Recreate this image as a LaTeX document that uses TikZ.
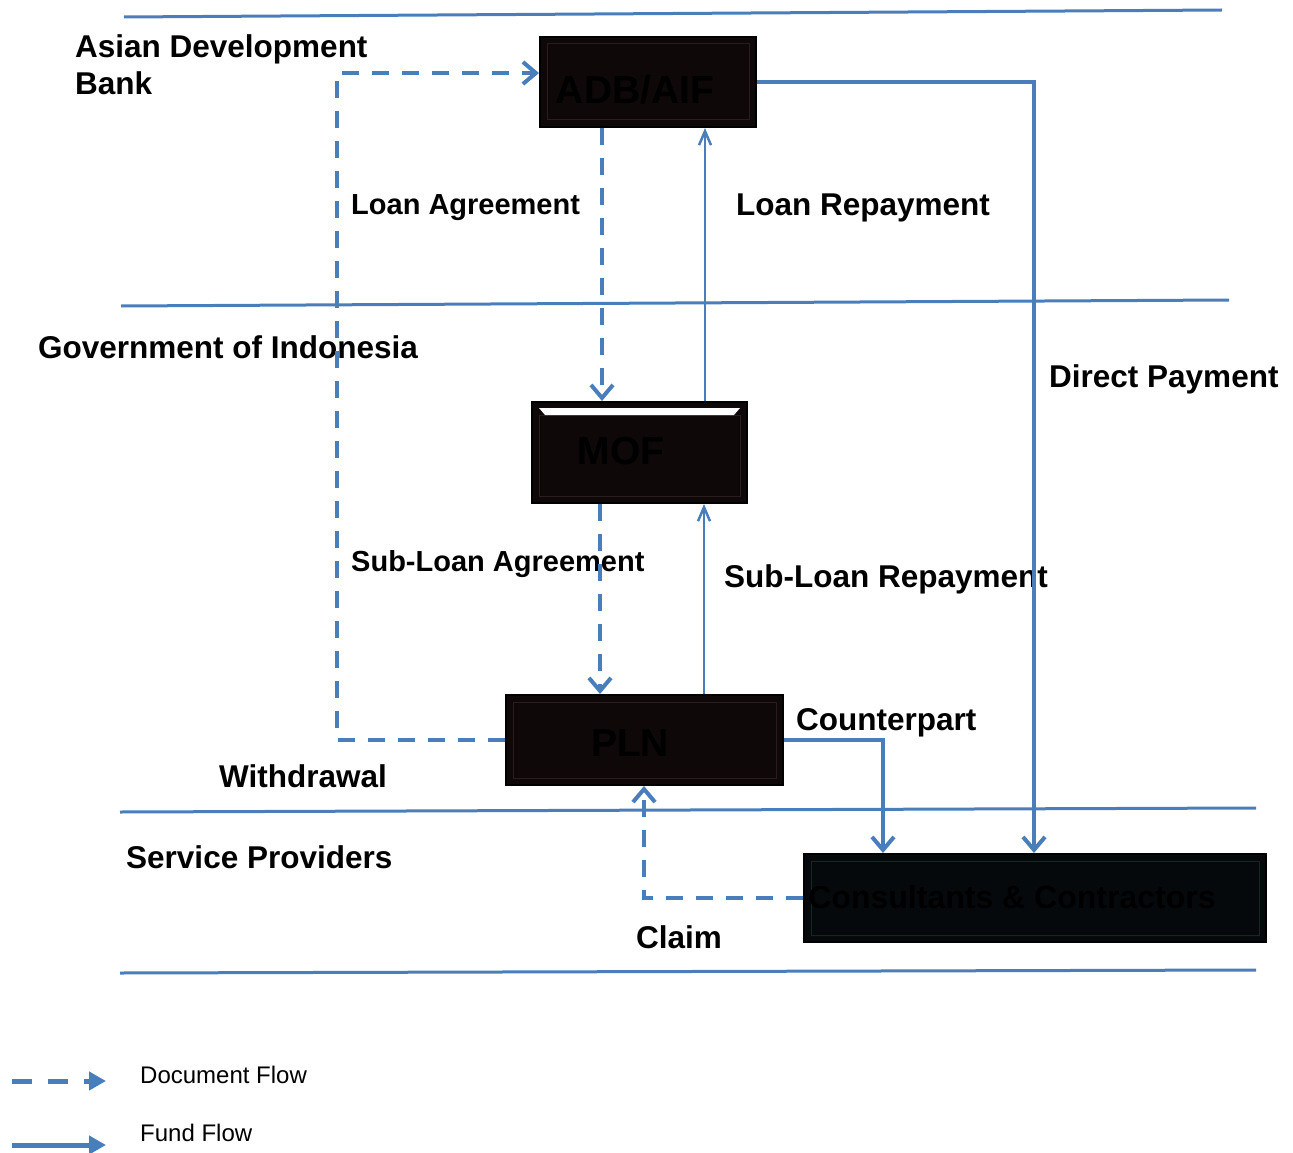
\documentclass[tikz,border=0pt]{standalone}
\usepackage{fontspec}
\setmainfont{Liberation Sans}
\usetikzlibrary{arrows.meta}
\definecolor{flow}{RGB}{74,126,187}
\definecolor{boxfill}{RGB}{14,8,8}
\definecolor{ccfill}{RGB}{6,9,12}
\definecolor{bevel}{RGB}{40,30,30}
\begin{document}
\begin{tikzpicture}[x=1pt,y=-1pt,
  region/.style={draw=flow, line width=3pt},
  box/.style={draw=black, line width=2pt, fill=boxfill, inner sep=0pt},
  boxtext/.style={font=\bfseries\fontsize{39}{44}\selectfont, text=black, inner sep=0pt, text height=28pt, text depth=0pt},
  lbl/.style={font=\bfseries\fontsize{31.5}{37}\selectfont, anchor=west, inner sep=0pt, text height=23pt, text depth=0pt},
  lblsm/.style={font=\bfseries\fontsize{29}{34}\selectfont, anchor=west, inner sep=0pt, text height=21pt, text depth=0pt},
  legtext/.style={font=\fontsize{24}{28}\selectfont, anchor=west, inner sep=0pt, text height=17pt, text depth=0pt},
  docflow/.style={draw=flow, line width=4pt, dash pattern=on 17pt off 13pt, -{Straight Barb[length=13pt,width=22pt]}},
  fundflow/.style={draw=flow, line width=4pt, -{Straight Barb[length=13pt,width=22pt]}},
  thinflow/.style={draw=flow, line width=2.5pt, -{Straight Barb[length=14pt,width=12pt]}},
  legdoc/.style={draw=flow, line width=5pt, dash pattern=on 20pt off 16pt, -{Triangle[length=17pt,width=18pt]}},
  legfund/.style={draw=flow, line width=5pt, -{Triangle[length=17pt,width=18pt]}}
]
\useasboundingbox (0,0) rectangle (1293,1153);

% region lines
\coordinate (r1a) at (124,17);  \coordinate (r1b) at (1222,10);
\coordinate (r2a) at (121,306); \coordinate (r2b) at (1229,300);
\coordinate (r3a) at (120,812); \coordinate (r3b) at (1256,808);
\coordinate (r4a) at (120,973); \coordinate (r4b) at (1256,970);
\draw[region] (r1a) -- (r1b);
\draw[region] (r2a) -- (r2b);
\draw[region] (r3a) -- (r3b);
\draw[region] (r4a) -- (r4b);

% boxes
\node[box, minimum width=216pt, minimum height=90pt] (ADB) at (648,82) {};
\node[box, minimum width=215pt, minimum height=101pt] (MOF) at (639.5,452.5) {};
\node[box, minimum width=277pt, minimum height=90pt] (PLN) at (644.5,740) {};
\node[box, fill=ccfill, minimum width=462pt, minimum height=88pt] (CC) at (1035,898) {};

% bevels
\draw[bevel, line width=1pt] ([shift={(8,8)}]ADB.north west) rectangle ([shift={(-8,-8)}]ADB.south east);
\draw[bevel, line width=1pt] ([shift={(8,14)}]MOF.north west) rectangle ([shift={(-8,-8)}]MOF.south east);
\fill[white] ([shift={(8,7)}]MOF.north west) -- ([shift={(-8,7)}]MOF.north east) -- ([shift={(-14,14)}]MOF.north east) -- ([shift={(14,14)}]MOF.north west) -- cycle;
\draw[bevel, line width=1pt] ([shift={(8,8)}]PLN.north west) rectangle ([shift={(-8,-8)}]PLN.south east);
\draw[bevel, line width=1pt] ([shift={(8,8)}]CC.north west) rectangle ([shift={(-8,-8)}]CC.south east);

% box texts
\node[boxtext] (ADBt) at (635,90) {ADB/AIF};
\node[boxtext] (MOFt) at (621,450) {MOF};
\node[boxtext] (PLNt) at (630,742) {PLN};
\node[boxtext, font=\bfseries\fontsize{32}{37}\selectfont, text height=23pt] (CCt) at (1012,897) {Consultants \& Contractors};

% labels
\node[lbl] (lADB1) at (75,46) {Asian Development};
\node[lbl] (lADB2) at (75,83) {Bank};
\node[lbl] (lGOI) at (38,347) {Government of Indonesia};
\node[lbl] (lSP) at (126,857) {Service Providers};
\node[lblsm] (lLA) at (351,204) {Loan Agreement};
\node[lbl] (lLR) at (736,204) {Loan Repayment};
\node[lbl] (lDP) at (1049,376) {Direct Payment};
\node[lblsm] (lSA) at (351,561) {Sub-Loan Agreement};
\node[lbl] (lSR) at (724,576) {Sub-Loan Repayment};
\node[lbl] (lCP) at (796,719) {Counterpart};
\node[lbl] (lW) at (219,776) {Withdrawal};
\node[lbl] (lCl) at (636,937) {Claim};

% column / row helpers
\coordinate (xW) at (337,0);
\coordinate (yW) at (0,73);
\coordinate (xLA) at (602,0);
\coordinate (xLR) at (705,0);
\coordinate (xD) at (1034,0);
\coordinate (xSA) at (600,0);
\coordinate (xSR) at (704,0);
\coordinate (xC) at (883,0);
\coordinate (xCl) at (644,0);

% connectors
\draw[docflow] (PLN.west) -- (PLN.west -| xW) -- (yW -| xW) -- (ADB.west |- yW);
\draw[docflow] (ADB.south -| xLA) -- (MOF.north -| xLA);
\draw[thinflow] (MOF.north -| xLR) -- (ADB.south -| xLR);
\draw[fundflow] (ADB.east) -- (ADB.east -| xD) -- (CC.north -| xD);
\draw[docflow] (MOF.south -| xSA) -- (PLN.north -| xSA);
\draw[thinflow] (PLN.north -| xSR) -- (MOF.south -| xSR);
\draw[fundflow] (PLN.east) -- (PLN.east -| xC) -- (CC.north -| xC);
\draw[docflow] (CC.west) -- (CC.west -| xCl) -- (PLN.south -| xCl);

% legend
\coordinate (ld1) at (12,1081); \coordinate (ld2) at (106,1081);
\coordinate (lf1) at (12,1145); \coordinate (lf2) at (106,1145);
\draw[legdoc] (ld1) -- (ld2);
\draw[legfund] (lf1) -- (lf2);
\node[legtext] (tDoc) at (140,1075) {Document Flow};
\node[legtext] (tFund) at (140,1133) {Fund Flow};
\end{tikzpicture}
\end{document}
